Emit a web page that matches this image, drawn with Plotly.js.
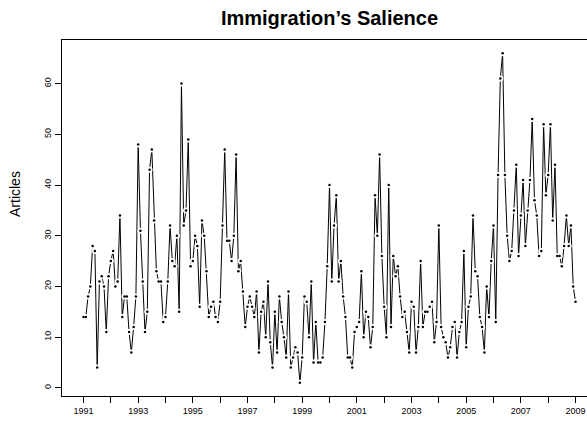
<!DOCTYPE html>
<html><head><meta charset="utf-8">
<script src="https://cdn.plot.ly/plotly-3.0.1.min.js"></script>
<style>html,body{margin:0;padding:0;overflow:hidden;background:#fff}#chart{width:607px;height:423px}</style>
</head><body><div id="chart"></div>
<script>
// Monthly article counts, January 1991 - January 2009
const startYear = 1991;
const y1991 = [14,14,18,20,28,27,4,21,22,20,11,22];
const y1992 = [25,27,20,21,34,14,18,18,11,7,12,18];
const y1993 = [48,31,21,11,15,43,47,33,23,21,21,13];
const y1994 = [14,21,32,25,24,30,15,60,32,35,49,24];
const y1995 = [25,30,28,16,33,30,23,14,16,17,14,13];
const y1996 = [17,32,47,29,29,25,30,46,23,25,19,12];
const y1997 = [16,18,16,14,19,7,15,17,10,21,9,4];
const y1998 = [15,7,18,13,10,6,19,4,6,8,7,1];
const y1999 = [6,18,17,10,21,5,13,5,5,6,13,24];
const y2000 = [40,21,32,38,21,25,18,14,6,6,4,11];
const y2001 = [12,13,23,10,15,14,8,12,38,30,46,26];
const y2002 = [16,10,40,12,26,22,24,18,14,15,11,7];
const y2003 = [17,16,7,12,25,12,15,15,16,17,9,13];
const y2004 = [32,12,10,9,6,8,12,13,6,11,13,27];
const y2005 = [8,16,18,34,23,22,14,12,7,20,14,25];
const y2006 = [32,13,42,61,66,42,30,25,27,35,44,26];
const y2007 = [34,41,28,35,41,53,37,34,26,27,52,38];
const y2008 = [42,52,33,44,26,26,24,28,34,28,32,20];
const y2009 = [17];

const xTickYears = [1991,1992,1993,1994,1995,1996,1997,1998,1999,2000,2001,2002,2003,2004,2005,2006,2007,2008,2009];
const xTickLabels = ['1991','','1993','','1995','','1997','','1999','','2001','','2003','','2005','','2007','','2009'];
const yTicks = [0,10,20,30,40,50,60];
const yTickLabels = ['0','10','20','30','40','50','60'];

const counts = [].concat(y1991,y1992,y1993,y1994,y1995,y1996,y1997,y1998,y1999,y2000,
  y2001,y2002,y2003,y2004,y2005,y2006,y2007,y2008,y2009);
const t = counts.map((v,i) => startYear + i/12);

const font = "'Liberation Sans', Arial, Helvetica, sans-serif";

const traces = [
  {x:t, y:counts, type:'scatter', mode:'lines', line:{color:'#000', width:1}, hoverinfo:'skip', showlegend:false},
  {x:t, y:counts, type:'scatter', mode:'markers', marker:{color:'#fff', size:6}, hoverinfo:'skip', showlegend:false},
  {x:t, y:counts, type:'scatter', mode:'markers', marker:{color:'#000', size:2.5}, name:'Articles', showlegend:false}
];

const layout = {
  width:607, height:423,
  margin:{l:62, r:10, t:40, b:27},
  paper_bgcolor:'#fff', plot_bgcolor:'#fff',
  font:{family:font, color:'#000', size:9},
  title:{text:'<b>Immigration\u2019s Salience</b>', font:{family:font, size:20, color:'#000'},
         xref:'paper', x:0.5, xanchor:'center', yref:'container', y:1-18/423, yanchor:'middle'},
  xaxis:{range:[1990.213, 2009.787], tickmode:'array', tickvals:xTickYears, ticktext:xTickLabels,
         ticks:'outside', ticklen:6, tickwidth:1, tickcolor:'#000', tickfont:{size:9, family:font},
         showline:true, mirror:true, linecolor:'#000', linewidth:1, showgrid:false, zeroline:false},
  yaxis:{range:[-1.6, 68.6], tickmode:'array', tickvals:yTicks, ticktext:yTickLabels, tickangle:-90,
         ticks:'outside', ticklen:6, tickwidth:1, tickcolor:'#000', tickfont:{size:9, family:font},
         showline:true, mirror:true, linecolor:'#000', linewidth:1, showgrid:false, zeroline:false},
  annotations:[{text:'Articles', xref:'paper', yref:'paper', x:(15-62)/535, y:(396-194)/356,
                xanchor:'center', yanchor:'middle', textangle:-90, showarrow:false,
                font:{family:font, size:14, color:'#000'}}]
};
Plotly.newPlot('chart', traces, layout, {displayModeBar:false, staticPlot:true});
</script></body></html>
